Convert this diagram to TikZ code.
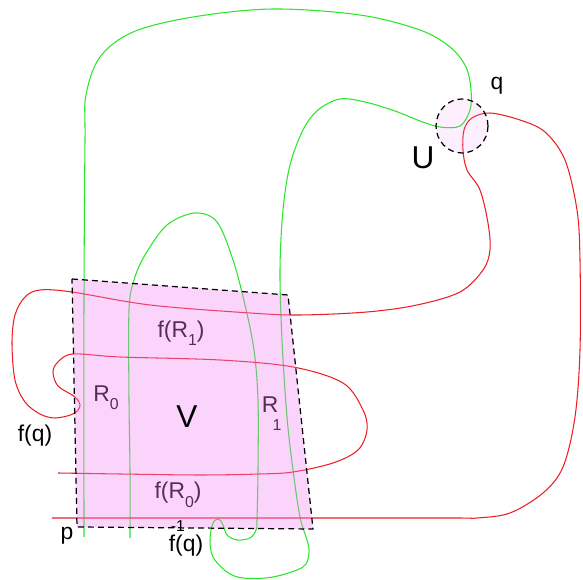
\documentclass[tikz,border=0pt]{standalone}
\usepackage{fontspec}
\setmainfont{Liberation Sans}
\usepackage{tikz}

\definecolor{curvegreen}{RGB}{40,230,40}
\definecolor{curvered}{RGB}{236,30,36}
\definecolor{vpink}{RGB}{241,132,241}
\newcommand{\lowsub}[1]{\raisebox{-0.7ex}{\fontsize{9}{10}\selectfont #1}}

\begin{document}
\begin{tikzpicture}[x=0.02cm,y=-0.02cm,
  lbl/.style={inner sep=0pt,font=\fontsize{13}{15}\selectfont},
  biglbl/.style={inner sep=0pt,font=\fontsize{18}{20}\selectfont},
  bord/.style={black,line width=0.7pt,dash pattern=on 3.4pt off 2.3pt}]
\useasboundingbox (0,0) rectangle (583,580);
% the two curves
\draw[curvegreen,line width=0.6pt] plot[smooth,tension=0.55] coordinates {
  (130,538) (130,470) (129,400) (129,310) (134,280) (145,255) (167,225) (195,213)
  (217,222) (233,260) (245,305) (254,350) (258,400) (258,470) (257,520) (256,530)
  (250,538) (237,540) (227,535) (223,525) (219,519) (213,523) (210,540) (213,557)
  (227,572) (243,578) (273,577) (303,567) (309,553) (307,540) (300,517) (293,470)
  (287,417) (282,340) (280,270) (283,210) (290,165) (303,130) (318,110) (340,99)
  (365,102) (395,111) (420,121) (440,127) (460,126) (470,110) (471,90) (466,67)
  (450,47) (420,30) (360,15) (273,9) (193,17) (133,32) (100,57) (86,95) (85,140)
  (84,300) (84,537)};
\draw[curvered,line width=0.6pt] plot[smooth,tension=0.55] coordinates {
  (58,473) (120,474) (200,475) (260,474) (293,472) (333,463) (358,450) (367,430)
  (363,410) (343,383) (293,367) (220,360) (120,357) (73,354) (58,362) (53,372)
  (58,386) (75,397) (80,406) (73,414) (55,418) (40,414) (25,402) (15,380) (12,343)
  (15,315) (25,297) (40,290) (72,292) (150,305) (250,313) (300,315) (367,312)
  (417,305) (460,292) (483,270) (490,250) (488,223) (480,190) (467,170) (463,150)
  (464,130) (472,118) (490,113) (520,120) (545,132) (565,160) (577,210) (580,260)
  (580,350) (575,417) (563,467) (543,493) (510,513) (477,518) (453,518) (300,518)
  (52,518)};
% labels under the shading
\node[lbl] (fR1) at (181,333) {f(R\lowsub{1})};
\node[lbl] (fR0) at (178,495) {f(R\lowsub{0})};
\node[lbl] (R0) at (106,398) {R\lowsub{0}};
\node[lbl] (R1) at (270,405) {R};
\node[inner sep=0pt,font=\fontsize{9}{10}\selectfont] (R1sub) at (277,425) {1};
% the sets V and U
\fill[vpink,opacity=0.35] (72,279) -- (288,295) -- (313,529) -- (77,527) -- cycle;
\draw[bord] (72,279) -- (288,295) -- (313,529) -- (77,527) -- cycle;
\fill[vpink,opacity=0.13] (462,126) ellipse [x radius=26,y radius=27];
\draw[bord] (462,126) ellipse [x radius=26,y radius=27];
% labels on top
\node[biglbl] (V) at (187,417) {V};
\node[biglbl] (U) at (423,158) {U};
\node[lbl] (q) at (497,86) {q};
\node[lbl] (p) at (67,536) {p};
\node[lbl] (fq) at (35,436) {f(q)};
\node[lbl] (fqinv) at (186,546) {f(q)};
\node[inner sep=0pt,font=\fontsize{9}{10}\selectfont] (inv) at (178,526) {-1};
\end{tikzpicture}
\end{document}
